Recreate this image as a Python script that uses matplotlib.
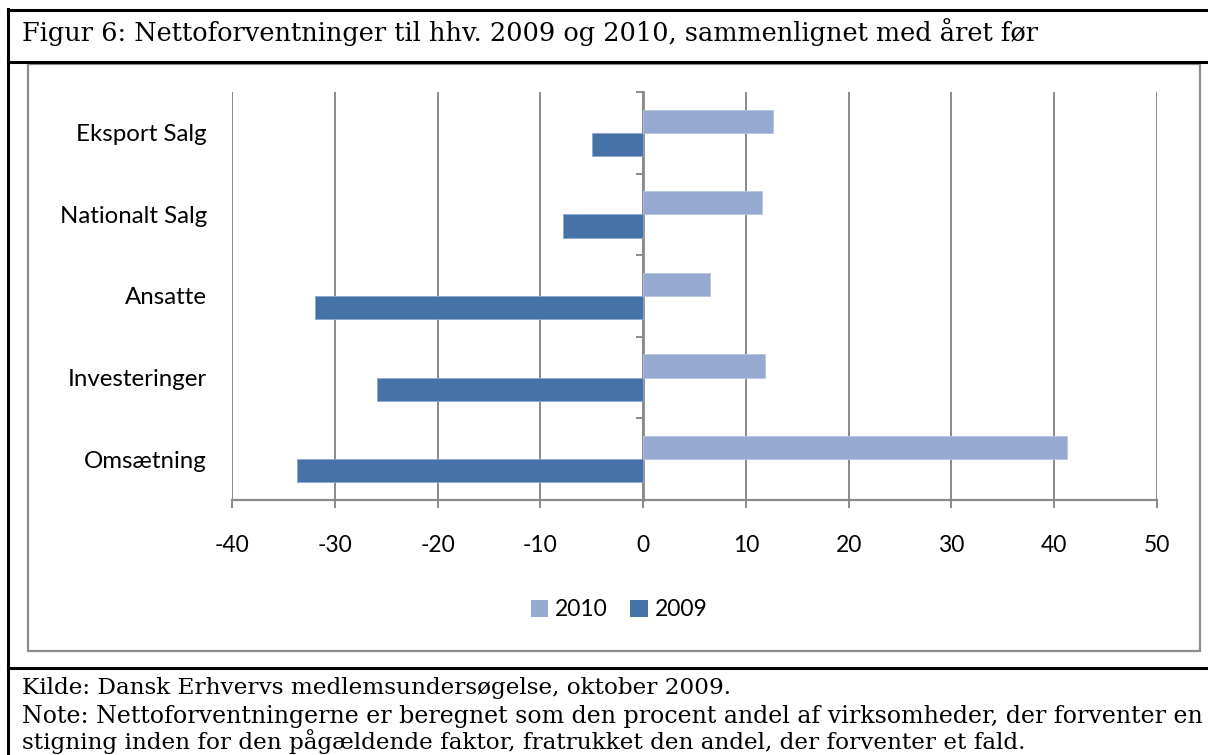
import matplotlib
matplotlib.use("Agg")
import matplotlib.pyplot as plt
import numpy as np
from matplotlib.lines import Line2D
from matplotlib.patches import Rectangle, Patch

# ---- data (bottom to top as drawn) ----
categories = ["Omsætning", "Investeringer", "Ansatte", "Nationalt Salg", "Eksport Salg"]
values_2010 = [41.2, 11.9, 6.5, 11.6, 12.6]
values_2009 = [-33.7, -25.9, -31.9, -7.8, -5.0]
series_labels = ["2010", "2009"]
x_ticks = [-40, -30, -20, -10, 0, 10, 20, 30, 40, 50]

title = "Figur 6: Nettoforventninger til hhv. 2009 og 2010, sammenlignet med året før"
source = "Kilde: Dansk Erhvervs medlemsundersøgelse, oktober 2009."
note1 = "Note: Nettoforventningerne er beregnet som den procent andel af virksomheder, der forventer en"
note2 = "stigning inden for den pågældende faktor, fratrukket den andel, der forventer et fald."

c2010 = "#95A9D1"
c2009 = "#4573A8"
grid_c = "#8A8A8A"

W, H = 1208, 755
fig = plt.figure(figsize=(W / 100, H / 100), dpi=100)

def fx(px):
    return px / W

def fy(py):
    return 1 - py / H

sans = ["Lato", "DejaVu Sans"]
serif = ["DejaVu Serif"]

ax = fig.add_axes([fx(232), fy(500), fx(1157) - fx(232), fy(92) - fy(500)])

y = np.arange(len(categories))
h = 0.285
ax.barh(y + h / 2, values_2010, height=h, color=c2010, edgecolor="#B7C6E2", linewidth=0.6, zorder=3)
ax.barh(y - h / 2, values_2009, height=h, color=c2009, edgecolor="#8FA8CC", linewidth=0.6, zorder=3)

ax.set_xlim(-40, 50)
ax.set_ylim(-0.5, len(categories) - 0.5)
ax.set_xticks(x_ticks)
ax.set_xticklabels([str(v) for v in x_ticks], family=sans, fontsize=16.5)
ax.grid(axis="x", color=grid_c, linewidth=1.4, zorder=0)
ax.set_axisbelow(True)

for s in ["top", "right", "left"]:
    ax.spines[s].set_visible(False)
ax.spines["bottom"].set_color(grid_c)
ax.spines["bottom"].set_linewidth(1.6)
ax.tick_params(axis="x", direction="out", length=6, width=1.4, color=grid_c, pad=19.5)

ax.set_yticks(y)
ax.set_yticklabels(categories, family=sans, fontsize=17.3)
ax.tick_params(axis="y", length=0, pad=18)

# vertical category axis at x = 0
sec = ax.secondary_yaxis(0, transform=ax.transData)
sec.set_yticks(np.arange(-0.5, len(categories), 1.0))
sec.set_yticklabels([])
sec.tick_params(axis="y", direction="out", length=5, width=1.4, color=grid_c)
sec.spines["left"].set_color(grid_c)
sec.spines["left"].set_linewidth(2.0)

# legend
handles = [Patch(facecolor=c2010, edgecolor="none"), Patch(facecolor=c2009, edgecolor="none")]
fig.legend(handles, series_labels, loc="center", bbox_to_anchor=(fx(619), fy(610)), ncol=2,
           frameon=False, prop={"family": sans, "size": 16.5}, handlelength=0.75, handleheight=0.75,
           handletextpad=0.3, columnspacing=1.0)

# frame lines
black = "black"
fig.add_artist(Line2D([fx(8), 1], [fy(10), fy(10)], color=black, lw=2.2))
fig.add_artist(Line2D([fx(8), 1], [fy(62), fy(62)], color=black, lw=2.2))
fig.add_artist(Line2D([fx(8), 1], [fy(668), fy(668)], color=black, lw=2.2))
fig.add_artist(Line2D([fx(8), fx(8)], [fy(9), 0], color=black, lw=2.2))
fig.add_artist(Rectangle((fx(28), fy(651)), fx(1200) - fx(28), fy(64) - fy(651), fill=False,
                         edgecolor="#8C8C8C", lw=1.6, transform=fig.transFigure))

fig.text(fx(22), fy(41), title, family=serif, fontsize=18.45, va="baseline", ha="left")
fig.text(fx(22), fy(694), source, family=serif, fontsize=16.7, va="baseline", ha="left")
fig.text(fx(22), fy(723), note1, family=serif, fontsize=17.1, va="baseline", ha="left")
fig.text(fx(22), fy(749), note2, family=serif, fontsize=16.7, va="baseline", ha="left")

fig.savefig("out.png", dpi=100)
